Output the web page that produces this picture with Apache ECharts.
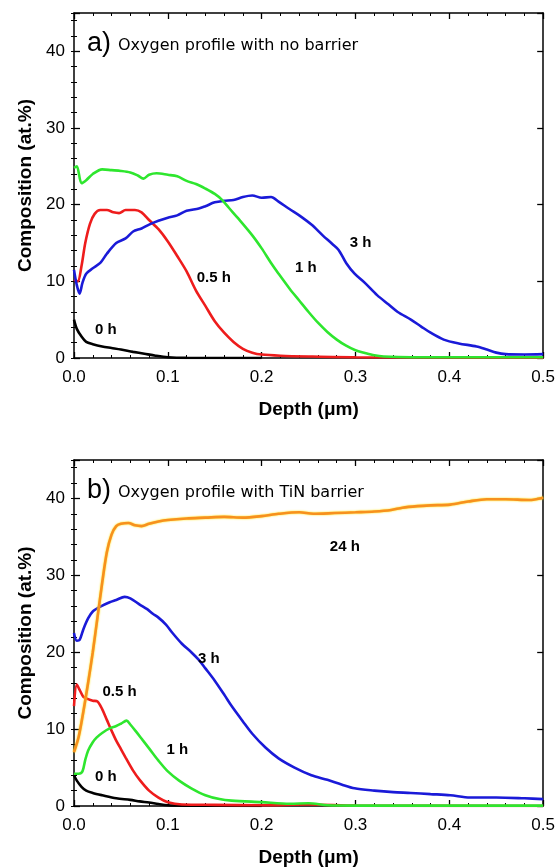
<!DOCTYPE html>
<html>
<head>
<meta charset="utf-8">
<script src="https://cdn.jsdelivr.net/npm/echarts@6/dist/echarts.min.js"></script>
<style>
html,body{margin:0;padding:0;background:#fff;}
#c{width:558px;height:868px;}
</style>
</head>
<body>
<div id="c"></div>
<script>
// ---------- DATA ----------
const xTicks = [0.0, 0.1, 0.2, 0.3, 0.4, 0.5];
const yTicks = [0, 10, 20, 30, 40];
const xName = 'Depth (\u03bcm)';
const yName = 'Composition (at.%)';
const titleA = 'Oxygen profile with no barrier';
const titleB = 'Oxygen profile with TiN barrier';

// Panel a) no barrier  [depth (um), composition (at.%)]
const a_0h = [[0,5.0],[0.003,3.8],[0.008,2.8],[0.013,2.1],[0.02,1.8],[0.03,1.5],[0.04,1.3],[0.05,1.1],[0.063,0.8],[0.075,0.55],[0.087,0.3],[0.1,0.1],[0.12,0.02],[0.2,0]];
const a_05h = [[0,10.2],[0.004,10.0],[0.008,12],[0.012,15],[0.017,17.5],[0.022,18.8],[0.028,19.3],[0.035,19.3],[0.042,19.0],[0.048,18.9],[0.055,19.3],[0.065,19.3],[0.072,19.0],[0.08,18.0],[0.09,16.8],[0.1,15.2],[0.11,13.3],[0.12,11.3],[0.13,8.8],[0.14,6.8],[0.15,4.8],[0.16,3.3],[0.17,2.1],[0.18,1.2],[0.19,0.7],[0.2,0.45],[0.22,0.3],[0.25,0.2],[0.3,0.1],[0.5,0.05]];
const a_3h = [[0,11.5],[0.003,9.5],[0.006,8.4],[0.009,9.8],[0.013,11],[0.02,11.7],[0.028,12.4],[0.035,13.6],[0.045,15],[0.055,15.6],[0.063,16.5],[0.072,16.9],[0.08,17.4],[0.09,17.9],[0.1,18.3],[0.11,18.6],[0.12,19.2],[0.133,19.5],[0.14,19.8],[0.15,20.3],[0.16,20.5],[0.17,20.6],[0.18,21.0],[0.19,21.2],[0.2,20.9],[0.21,21.0],[0.218,20.4],[0.23,19.4],[0.24,18.6],[0.253,17.4],[0.265,16.0],[0.275,14.9],[0.282,14.1],[0.29,12.4],[0.299,11.0],[0.31,9.8],[0.323,8.2],[0.335,7.0],[0.345,6.0],[0.359,5.0],[0.37,4.1],[0.38,3.3],[0.394,2.4],[0.41,1.9],[0.429,1.5],[0.44,1.1],[0.45,0.7],[0.46,0.5],[0.48,0.45],[0.5,0.5]];
const a_1h = [[0,24.8],[0.003,25],[0.008,22.8],[0.013,23.2],[0.02,24.0],[0.03,24.6],[0.04,24.5],[0.05,24.4],[0.06,24.2],[0.068,23.8],[0.074,23.4],[0.08,23.9],[0.088,24.1],[0.1,23.9],[0.11,23.7],[0.12,23.1],[0.13,22.7],[0.14,22.1],[0.15,21.4],[0.158,20.6],[0.165,19.6],[0.175,18.2],[0.19,16.0],[0.2,14.3],[0.21,12.4],[0.218,11],[0.23,9],[0.24,7.5],[0.25,6],[0.26,4.6],[0.27,3.4],[0.28,2.4],[0.29,1.6],[0.3,1.0],[0.31,0.65],[0.32,0.35],[0.33,0.2],[0.36,0.1],[0.5,0.1]];

// Panel b) TiN barrier
const b_0h = [[0,4.0],[0.003,3.3],[0.008,2.5],[0.013,2.0],[0.02,1.7],[0.03,1.4],[0.045,1.0],[0.06,0.8],[0.07,0.6],[0.08,0.45],[0.09,0.25],[0.1,0.1],[0.12,0.05],[0.2,0]];
const b_05h = [[0,13],[0.003,15.8],[0.006,15.1],[0.01,14.2],[0.015,13.9],[0.02,13.7],[0.025,13.6],[0.03,12.6],[0.035,11.2],[0.04,9.8],[0.045,8.5],[0.05,7.4],[0.055,6.3],[0.063,4.6],[0.07,3.4],[0.08,2.0],[0.09,1.1],[0.1,0.5],[0.115,0.2],[0.15,0.15],[0.2,0.1],[0.25,0.2],[0.3,0.05],[0.5,0]];
const b_3h = [[0,22.5],[0.003,21.5],[0.006,21.6],[0.01,23],[0.015,24.4],[0.02,25.3],[0.0275,25.9],[0.038,26.5],[0.045,26.8],[0.054,27.2],[0.06,27],[0.07,26.2],[0.078,25.6],[0.084,25.0],[0.09,24.5],[0.098,23.6],[0.105,22.5],[0.115,21.1],[0.125,20.0],[0.133,19.0],[0.14,17.9],[0.15,16.3],[0.16,14.5],[0.168,13.0],[0.18,11.0],[0.19,9.4],[0.204,7.6],[0.218,6.2],[0.235,5.0],[0.253,4.0],[0.27,3.4],[0.285,2.8],[0.299,2.3],[0.32,2.0],[0.34,1.8],[0.359,1.7],[0.38,1.55],[0.401,1.4],[0.422,1.1],[0.45,1.1],[0.48,1.0],[0.5,0.9]];
const b_1h = [[0,4.2],[0.005,4.2],[0.009,4.5],[0.012,6.0],[0.015,7.2],[0.02,8.3],[0.024,8.9],[0.03,9.5],[0.038,10.1],[0.045,10.4],[0.05,10.7],[0.056,11.1],[0.06,10.6],[0.066,9.7],[0.073,8.6],[0.08,7.5],[0.09,5.9],[0.1,4.5],[0.112,3.3],[0.125,2.3],[0.14,1.4],[0.155,0.9],[0.168,0.7],[0.2,0.5],[0.23,0.3],[0.25,0.35],[0.27,0.1],[0.3,0.05],[0.5,0.05]];
const b_24h = [[0,7],[0.005,9],[0.01,12.3],[0.015,16],[0.02,20],[0.025,24.5],[0.03,29],[0.035,33],[0.04,35.3],[0.045,36.4],[0.05,36.7],[0.058,36.8],[0.065,36.5],[0.072,36.4],[0.08,36.7],[0.09,37.0],[0.1,37.2],[0.12,37.4],[0.14,37.5],[0.16,37.6],[0.18,37.5],[0.2,37.7],[0.218,38.0],[0.24,38.2],[0.255,38.0],[0.278,38.1],[0.3,38.2],[0.32,38.3],[0.338,38.5],[0.35,38.8],[0.366,39.0],[0.38,39.1],[0.401,39.2],[0.42,39.6],[0.44,39.9],[0.46,39.9],[0.485,39.8],[0.5,40.1]];

// curve annotations [depth, composition, text]
const a_labels = [[0.3055,15.0,'3 h'],[0.247,11.7,'1 h'],[0.149,10.4,'0.5 h'],[0.034,3.65,'0 h']];
const b_labels = [[0.2886,33.7,'24 h'],[0.1438,19.1,'3 h'],[0.0486,14.8,'0.5 h'],[0.11,7.3,'1 h'],[0.034,3.75,'0 h']];

// ---------- CHART ----------
const FONT = "'Liberation Sans', Arial, sans-serif";
const TFONT = "'DejaVu Sans', Verdana, sans-serif";
const C = {k:'#000000', r:'#ee1c1c', b:'#1a1ad8', g:'#2ee62e', o:'#f7901e'};
const X_MIN = 0, X_MAX = 0.5, Y_MIN = 0, Y_MAX = 45;

const grids = [
  {left:74, top:13, width:473, height:345},
  {left:74, top:460, width:473, height:346}
];

const xAxes = [], yAxes = [];
grids.forEach((g, gi) => {
  xAxes.push({
    gridIndex: gi, type:'value', min:X_MIN, max:X_MAX, interval:0.1, position:'bottom',
    name: xName, nameLocation:'middle', nameGap:42,
    nameTextStyle:{fontFamily:FONT, fontSize:19, fontWeight:'bold', color:'#000'},
    axisLine:{show:true, onZero:false, lineStyle:{color:'#000', width:1.5}},
    axisTick:{show:true, inside:true, length:6, lineStyle:{color:'#000', width:1.3}},
    minorTick:{show:true, splitNumber:5, length:3, lineStyle:{color:'#000', width:1}},
    axisLabel:{fontFamily:FONT, fontSize:17, color:'#000', margin:11,
      formatter: v => (xTicks.some(t => Math.abs(t - v) < 1e-9) ? v.toFixed(1) : '')},
    splitLine:{show:false}
  });
  xAxes.push({
    gridIndex: gi, type:'value', min:X_MIN, max:X_MAX, interval:0.1, position:'top',
    axisLine:{show:true, onZero:false, lineStyle:{color:'#000', width:1.5}},
    axisTick:{show:true, inside:true, length:6, lineStyle:{color:'#000', width:1.3}},
    minorTick:{show:true, splitNumber:5, length:3, lineStyle:{color:'#000', width:1}},
    axisLabel:{show:false}, splitLine:{show:false}
  });
  // left major
  yAxes.push({
    gridIndex: gi, type:'value', min:Y_MIN, max:Y_MAX, interval:10, position:'left',
    name: yName, nameLocation:'middle', nameGap:36, nameRotate:90,
    nameTextStyle:{fontFamily:FONT, fontSize:19, fontWeight:'bold', color:'#000'},
    axisLine:{show:true, onZero:false, lineStyle:{color:'#000', width:1.5}},
    axisTick:{show:true, inside:true, length:6, lineStyle:{color:'#000', width:1.3}},
    axisLabel:{fontFamily:FONT, fontSize:17, color:'#000', margin:9,
      formatter: v => (yTicks.indexOf(v) >= 0 ? String(v) : '')},
    splitLine:{show:false}
  });
  // left minor
  yAxes.push({
    gridIndex: gi, type:'value', min:Y_MIN, max:Y_MAX, interval:2, position:'left',
    axisLine:{show:false},
    axisTick:{show:true, inside:true, length:3, lineStyle:{color:'#000', width:1}},
    axisLabel:{show:false}, splitLine:{show:false}
  });
  // right major
  yAxes.push({
    gridIndex: gi, type:'value', min:Y_MIN, max:Y_MAX, interval:10, position:'right',
    axisLine:{show:true, onZero:false, lineStyle:{color:'#000', width:1.5}},
    axisTick:{show:true, inside:true, length:6, lineStyle:{color:'#000', width:1.3}},
    axisLabel:{show:false}, splitLine:{show:false}
  });
  // right minor
  yAxes.push({
    gridIndex: gi, type:'value', min:Y_MIN, max:Y_MAX, interval:2, position:'right',
    axisLine:{show:false},
    axisTick:{show:true, inside:true, length:3, lineStyle:{color:'#000', width:1}},
    axisLabel:{show:false}, splitLine:{show:false}
  });
});

function line(data, color, gi, z, glow) {
  const ls = {color, width:2.6};
  if (glow) { ls.shadowColor = glow; ls.shadowBlur = 2; }
  return {
    type:'line', data, xAxisIndex: gi*2, yAxisIndex: gi*4,
    showSymbol:false, symbol:'none', smooth:0.3, z: z, silent:true,
    lineStyle: ls, animation:false
  };
}
function labels(arr, gi) {
  return {
    type:'scatter', xAxisIndex: gi*2, yAxisIndex: gi*4, symbolSize:0, z:20,
    data: arr.map(d => ({value:[d[0], d[1]], name:d[2]})),
    itemStyle:{color:'#000', opacity:1},
    label:{show:true, position:'inside', formatter: p => p.name,
      fontFamily:FONT, fontSize:15, fontWeight:'bold', color:'#000', opacity:1},
    silent:true, animation:false
  };
}

const series = [
  line(a_0h, C.k, 0, 2), line(a_05h, C.r, 0, 3), line(a_3h, C.b, 0, 4), line(a_1h, C.g, 0, 5),
  labels(a_labels, 0),
  line(b_0h, C.k, 1, 2), line(b_05h, C.r, 1, 3), line(b_3h, C.b, 1, 4), line(b_1h, C.g, 1, 5), line(b_24h, C.o, 1, 6, '#ffe000'),
  labels(b_labels, 1)
];

const rich = {
  p:{fontFamily:FONT, fontSize:27, fontWeight:'normal', color:'#000', verticalAlign:'middle'},
  t:{fontFamily:TFONT, fontSize:16, fontWeight:'normal', color:'#000', verticalAlign:'middle', padding:[4,0,0,2]}
};

const chart = echarts.init(document.getElementById('c'), null, {renderer:'canvas'});
chart.setOption({
  backgroundColor:'#fff',
  animation:false,
  title:[
    {left:82, top:25, text:'{p|a)} {t|' + titleA + '}', textStyle:{fontWeight:'normal', rich}},
    {left:82, top:472, text:'{p|b)} {t|' + titleB + '}', textStyle:{fontWeight:'normal', rich}}
  ],
  grid: grids,
  xAxis: xAxes,
  yAxis: yAxes,
  series
});
</script>
</body>
</html>
